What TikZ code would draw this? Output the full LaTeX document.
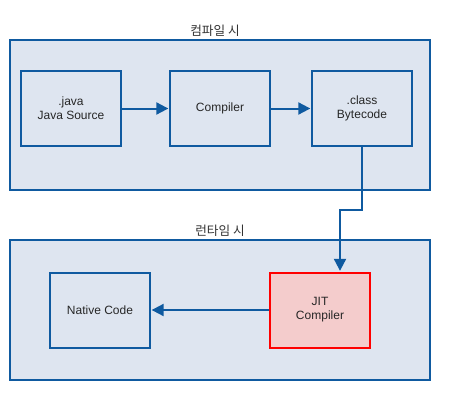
\documentclass[tikz,border=0pt]{standalone}
\usepackage{fontspec}
\setmainfont{Liberation Sans}
\newfontfamily\kofont{Noto Sans CJK KR}
\usetikzlibrary{arrows.meta,positioning}

\definecolor{boxline}{HTML}{0F5AA0}
\definecolor{boxfill}{HTML}{DEE5F0}
\definecolor{jitfill}{HTML}{F4CCCC}

\begin{document}
\begin{tikzpicture}[x=0.75pt,y=-0.75pt,>={Triangle[length=9pt,width=9pt]},
  stage/.style={draw=boxline,fill=boxfill,line width=1.5pt,minimum width=315pt,inner sep=0pt},
  unit/.style={draw=boxline,fill=boxfill,line width=1.5pt,minimum width=75pt,minimum height=56.25pt,align=center,font=\fontsize{9}{10.5}\selectfont,text=black!85},
  flow/.style={->,draw=boxline,line width=1.5pt,shorten >=0.5pt}]
\useasboundingbox (0,0) rectangle (449,400);
\node[stage,minimum height=112.5pt] (compile) at (220,115) {};
\node[stage,minimum height=105pt] (runtime) at (220,310) {};
\node[font=\kofont\fontsize{9.5}{10}\selectfont,text=black!80,anchor=south] (compilelbl) at (215,41) {컴파일 시};
\node[font=\kofont\fontsize{9.5}{10}\selectfont,text=black!80,anchor=south] (runtimelbl) at (220,241) {런타임 시};
\node[unit] (src) at (71,108.5) {.java\\Java Source};
\node[unit] (comp) at (220,108.5) {Compiler};
\node[unit] (bc) at (362,108.5) {.class\\Bytecode};
\node[unit] (native) at (100,310) {Native Code};
\node[unit,draw=red,fill=jitfill] (jit) at (320,310) {JIT\\Compiler};
\coordinate (bend1) at (362,210);
\coordinate (bend2) at (340,210);
\draw[flow] (src.east) -- (comp.west);
\draw[flow] (comp.east) -- (bc.west);
\draw[flow] (bc.south) -- (bend1) -- (bend2) -- (bend2 |- jit.north);
\draw[flow] (jit.west) -- (native.east);
\end{tikzpicture}
\end{document}
